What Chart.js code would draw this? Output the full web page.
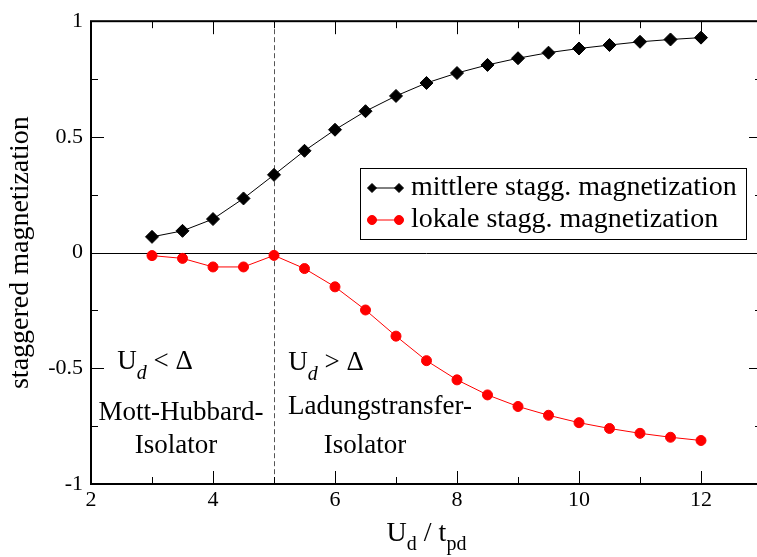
<!DOCTYPE html>
<html>
<head>
<meta charset="utf-8">
<script src="https://cdn.jsdelivr.net/npm/chart.js@4.4.1/dist/chart.umd.min.js"></script>
<style>
  html, body { margin: 0; padding: 0; background: #fff; overflow: hidden; }
  canvas { display: block; }
</style>
</head>
<body>
<canvas id="chart" width="770" height="557"></canvas>
<script>
// U_d / t_pd sample points
const uValues = [3, 3.5, 4, 4.5, 5, 5.5, 6, 6.5, 7, 7.5, 8, 8.5, 9, 9.5, 10, 10.5, 11, 11.5, 12];
// mean staggered magnetization
const mittlere = [0.068, 0.094, 0.145, 0.234, 0.336, 0.440, 0.531, 0.611, 0.677, 0.733,
                  0.776, 0.811, 0.840, 0.864, 0.882, 0.897, 0.911, 0.921, 0.929];
// local staggered magnetization
const lokale = [-0.013, -0.025, -0.062, -0.062, -0.012, -0.069, -0.148, -0.248, -0.361, -0.467,
                -0.550, -0.615, -0.665, -0.703, -0.735, -0.760, -0.781, -0.798, -0.812];
const seriesLabels = ['mittlere stagg. magnetization', 'lokale stagg. magnetization'];
const xTickValues = [2, 4, 6, 8, 10, 12];
const yTickValues = [-1, -0.5, 0, 0.5, 1];
const boundaryU = 5; // U_d = Delta

const SERIF = '"Liberation Serif", serif';
Chart.defaults.font.family = SERIF;
Chart.defaults.color = '#000';

function serifFont(size, style) {
  return (style ? style + ' ' : '') + size + 'px ' + SERIF;
}

// draws a run of text pieces (with subscripts) centred on x
function drawRich(ctx, parts, x, baseline) {
  let total = 0;
  parts.forEach(p => { ctx.font = p.font; p.w = ctx.measureText(p.text).width; total += p.w; });
  let cx = x - total / 2;
  ctx.textAlign = 'left';
  ctx.textBaseline = 'alphabetic';
  parts.forEach(p => {
    ctx.font = p.font;
    ctx.fillText(p.text, cx, baseline + (p.dy || 0));
    cx += p.w;
  });
}

const framePlugin = {
  id: 'frame',
  beforeDatasetsDraw(chart) {
    const ctx = chart.ctx, a = chart.chartArea, xs = chart.scales.x, ys = chart.scales.y;
    ctx.save();
    // zero line
    const y0 = Math.round(ys.getPixelForValue(0)) + 0.5;
    ctx.strokeStyle = '#000';
    ctx.lineWidth = 1;
    ctx.beginPath();
    ctx.moveTo(a.left, y0);
    ctx.lineTo(a.right, y0);
    ctx.stroke();
    // regime boundary
    const xb = Math.round(xs.getPixelForValue(boundaryU)) + 0.5;
    ctx.strokeStyle = '#555';
    ctx.setLineDash([5, 3]);
    ctx.beginPath();
    ctx.moveTo(xb, a.top);
    ctx.lineTo(xb, a.bottom);
    ctx.stroke();
    ctx.restore();
  },
  afterDraw(chart) {
    const ctx = chart.ctx, a = chart.chartArea, xs = chart.scales.x, ys = chart.scales.y;
    ctx.save();
    ctx.strokeStyle = '#000';

    // inward tick marks on all four sides
    ctx.lineWidth = 1;
    const majorLen = 13, minorLen = 7;
    const xStep = xTickValues[1] - xTickValues[0];
    const yStep = yTickValues[1] - yTickValues[0];
    const xMarks = [];
    xTickValues.forEach(v => {
      xMarks.push([v, majorLen]);
      if (v + xStep / 2 < xs.max) xMarks.push([v + xStep / 2, minorLen]);
    });
    const yMarks = [];
    yTickValues.forEach(v => {
      yMarks.push([v, majorLen]);
      if (v + yStep / 2 < ys.max) yMarks.push([v + yStep / 2, minorLen]);
    });
    ctx.beginPath();
    xMarks.forEach(([v, len]) => {
      const px = Math.round(xs.getPixelForValue(v)) + 0.5;
      ctx.moveTo(px, a.bottom); ctx.lineTo(px, a.bottom - len);
      ctx.moveTo(px, a.top); ctx.lineTo(px, a.top + len);
    });
    yMarks.forEach(([v, len]) => {
      const py = Math.round(ys.getPixelForValue(v)) + 0.5;
      ctx.moveTo(a.left, py); ctx.lineTo(a.left + len, py);
      ctx.moveTo(a.right, py); ctx.lineTo(a.right - len, py);
    });
    ctx.stroke();

    // plot frame
    ctx.lineWidth = 2;
    ctx.strokeRect(a.left, a.top, a.right - a.left, a.bottom - a.top);

    ctx.fillStyle = '#000';

    // y axis title
    ctx.save();
    ctx.translate(28, (a.top + a.bottom) / 2);
    ctx.rotate(-Math.PI / 2);
    ctx.font = serifFont(28);
    ctx.textAlign = 'center';
    ctx.textBaseline = 'alphabetic';
    ctx.fillText('staggered magnetization', 0, 0);
    ctx.restore();

    // x axis title
    drawRich(ctx, [
      { text: 'U', font: serifFont(28) },
      { text: 'd', font: serifFont(20), dy: 9 },
      { text: ' / t', font: serifFont(28) },
      { text: 'pd', font: serifFont(20), dy: 9 }
    ], (a.left + a.right) / 2, 541);

    // regime annotations
    drawRich(ctx, [
      { text: 'U', font: serifFont(27) },
      { text: 'd', font: serifFont(20, 'italic'), dy: 10 },
      { text: ' < \u0394', font: serifFont(27) }
    ], 155, 369);
    ctx.font = serifFont(27);
    ctx.textAlign = 'center';
    ctx.fillText('Mott-Hubbard-', 181, 420);
    ctx.fillText('Isolator', 176, 453);

    drawRich(ctx, [
      { text: 'U', font: serifFont(27) },
      { text: 'd', font: serifFont(20, 'italic'), dy: 10 },
      { text: ' > \u0394', font: serifFont(27) }
    ], 326, 370);
    ctx.font = serifFont(27);
    ctx.textAlign = 'center';
    ctx.fillText('Ladungstransfer-', 380, 414);
    ctx.fillText('Isolator', 365, 453);

    // legend
    const box = { l: 360, t: 168, w: 386, h: 71 };
    ctx.fillStyle = '#fff';
    ctx.fillRect(box.l, box.t, box.w, box.h);
    ctx.lineWidth = 1;
    ctx.strokeStyle = '#000';
    ctx.strokeRect(box.l + 0.5, box.t + 0.5, box.w, box.h);
    const rows = [188, 220];
    chart.data.datasets.forEach((ds, i) => {
      const ry = rows[i];
      ctx.strokeStyle = ds.borderColor;
      ctx.lineWidth = 1;
      ctx.beginPath();
      ctx.moveTo(372, ry);
      ctx.lineTo(399, ry);
      ctx.stroke();
      [372, 399].forEach(px => {
        ctx.fillStyle = ds.pointBackgroundColor;
        Chart.helpers.drawPoint(ctx, { pointStyle: ds.pointStyle, radius: 4.5, borderWidth: 1 }, px, ry);
      });
      ctx.fillStyle = '#000';
      ctx.font = serifFont(28);
      ctx.textAlign = 'left';
      ctx.textBaseline = 'alphabetic';
      ctx.fillText(ds.label, 411, ry + 7);
    });

    ctx.restore();
  }
};

const toPoints = vals => uValues.map((u, i) => ({ x: u, y: vals[i] }));

new Chart(document.getElementById('chart'), {
  type: 'line',
  data: {
    datasets: [
      {
        label: seriesLabels[0],
        data: toPoints(mittlere),
        borderColor: '#000',
        borderWidth: 1,
        pointStyle: 'rectRot',
        pointRadius: 6.5,
        pointBackgroundColor: '#000',
        pointBorderColor: '#000',
        pointBorderWidth: 1,
        tension: 0
      },
      {
        label: seriesLabels[1],
        data: toPoints(lokale),
        borderColor: '#ff0000',
        borderWidth: 1,
        pointStyle: 'circle',
        pointRadius: 5,
        pointBackgroundColor: '#ff0000',
        pointBorderColor: '#ff0000',
        pointBorderWidth: 1,
        tension: 0
      }
    ]
  },
  options: {
    responsive: false,
    animation: false,
    devicePixelRatio: 1,
    layout: { padding: { left: 0, top: 14, right: 8, bottom: 0 } },
    plugins: { legend: { display: false }, tooltip: { enabled: false } },
    scales: {
      x: {
        type: 'linear',
        min: 2,
        max: 13,
        grid: { display: false, drawTicks: false },
        border: { display: false },
        afterBuildTicks: s => { s.ticks = xTickValues.map(v => ({ value: v })); },
        afterFit: s => { s.height = 73; },
        ticks: { color: '#000', padding: 3, font: { family: SERIF, size: 22 }, callback: v => String(v) }
      },
      y: {
        type: 'linear',
        min: -1,
        max: 1,
        grid: { display: false, drawTicks: false },
        border: { display: false },
        afterBuildTicks: s => { s.ticks = yTickValues.map(v => ({ value: v })); },
        afterFit: s => { s.width = 91; },
        ticks: { color: '#000', padding: 8, font: { family: SERIF, size: 22 }, callback: v => String(v) }
      }
    }
  },
  plugins: [framePlugin]
});
</script>
</body>
</html>
